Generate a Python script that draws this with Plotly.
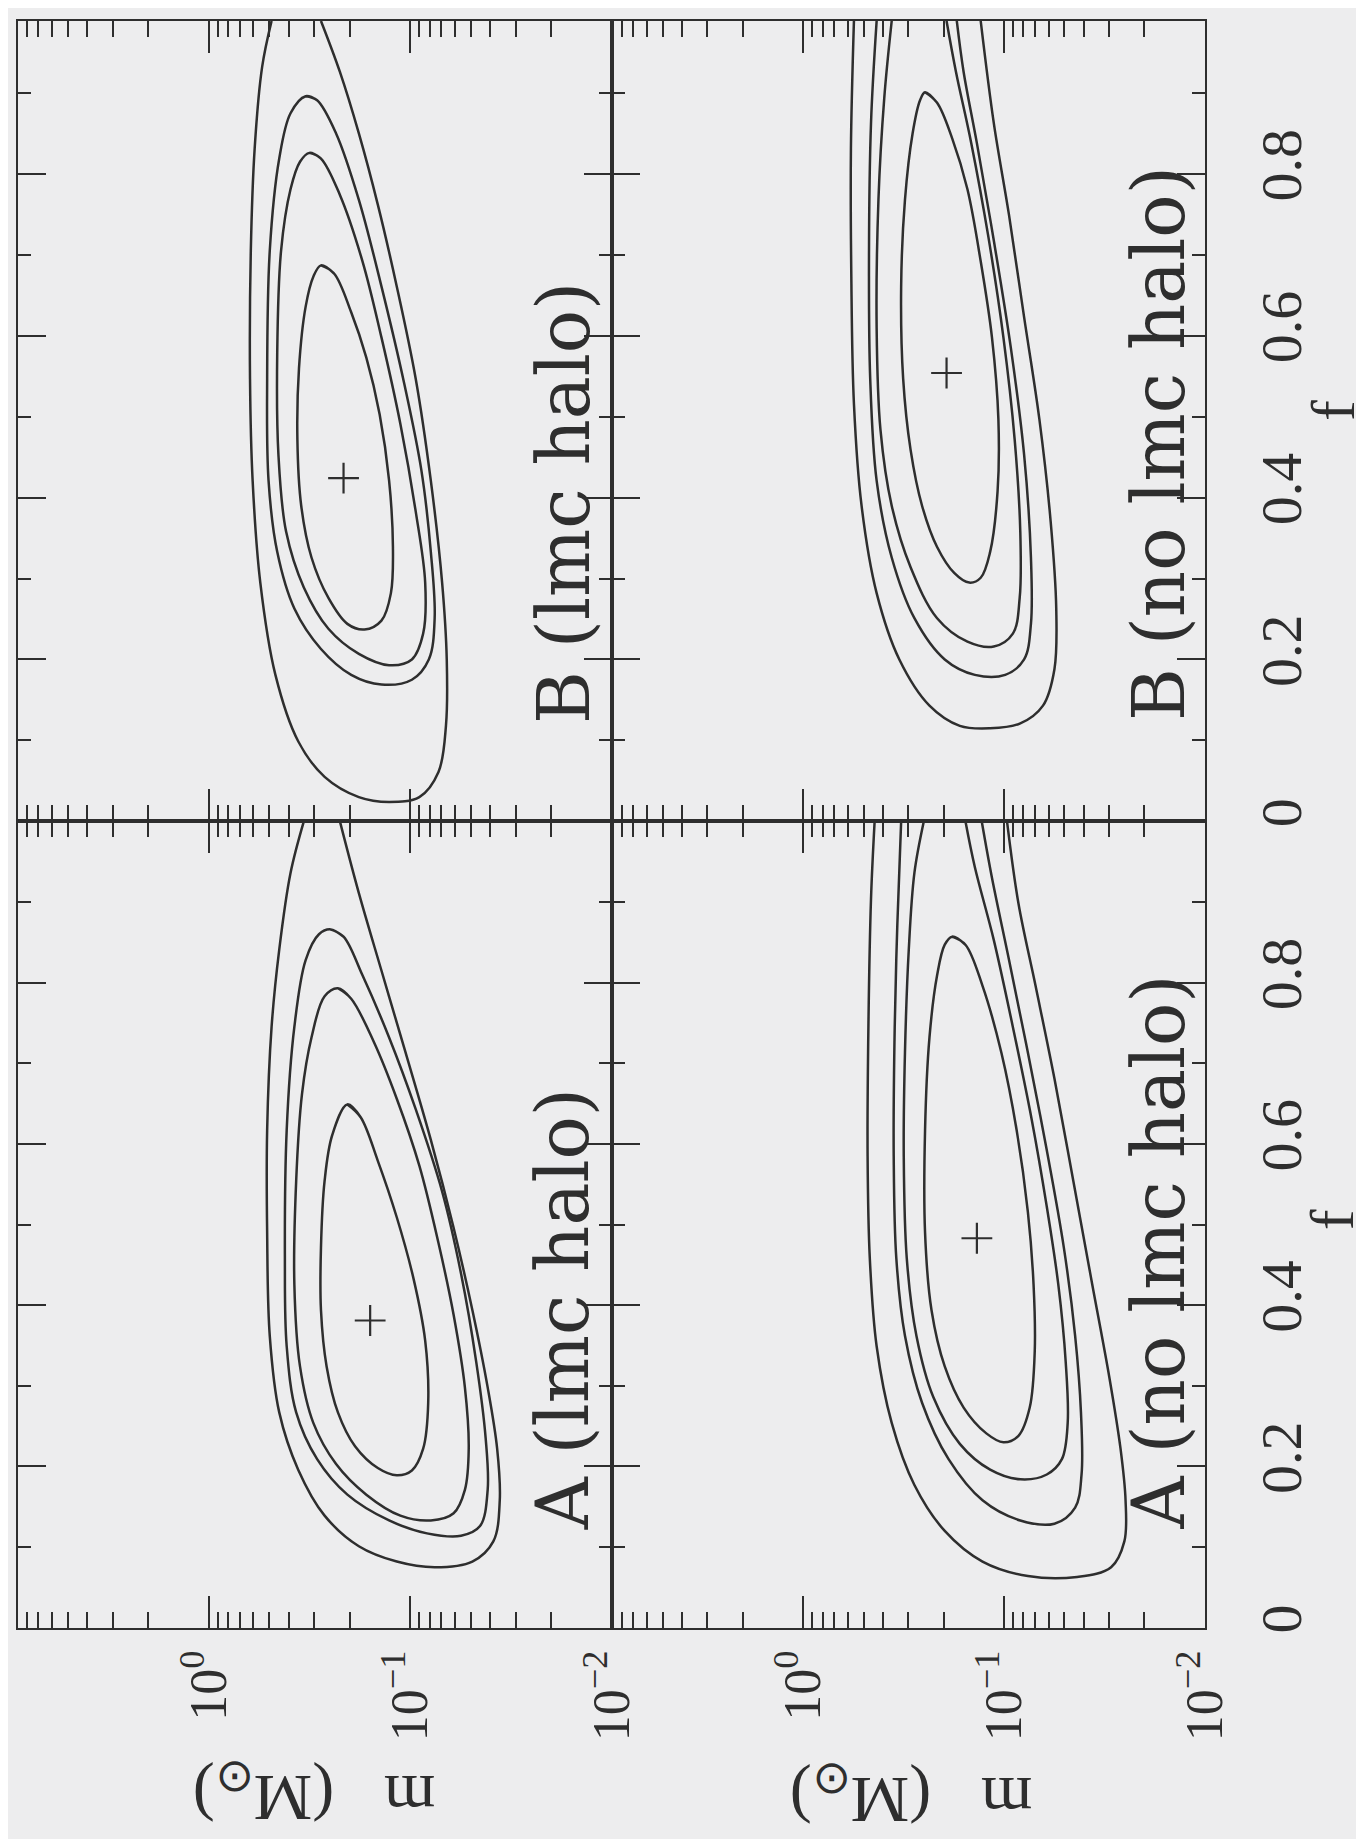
import plotly.graph_objects as go

# ---------------- data (log10 m [M_sun], f) ----------------
# Panel A (lmc halo)
A_LMC_BEST_LOGM, A_LMC_BEST_F = -0.801, 0.381
A_LMC_C1_LOGM = [-0.688, -0.754, -0.839, -0.933, -1.017, -1.074, -1.089, -1.064, -1.008, -0.933, -0.839, -0.726, -0.641, -0.585, -0.557, -0.557, -0.575, -0.613]
A_LMC_C1_F = [0.649, 0.633, 0.579, 0.509, 0.432, 0.356, 0.279, 0.222, 0.195, 0.189, 0.198, 0.225, 0.267, 0.324, 0.394, 0.471, 0.554, 0.611]
A_LMC_C2_LOGM = [-0.641, -0.707, -0.820, -0.933, -1.045, -1.140, -1.215, -1.271, -1.290, -1.271, -1.215, -1.102, -0.951, -0.782, -0.632, -0.519, -0.453, -0.425, -0.434, -0.463, -0.510, -0.575]
A_LMC_C2_F = [0.793, 0.780, 0.726, 0.656, 0.573, 0.477, 0.388, 0.298, 0.222, 0.171, 0.142, 0.133, 0.139, 0.165, 0.203, 0.254, 0.324, 0.426, 0.554, 0.662, 0.732, 0.783]
A_LMC_C3_LOGM = [-0.604, -0.669, -0.763, -0.895, -1.027, -1.158, -1.252, -1.327, -1.374, -1.384, -1.346, -1.252, -1.083, -0.895, -0.688, -0.538, -0.434, -0.387, -0.378, -0.387, -0.425, -0.481, -0.547]
A_LMC_C3_F = [0.866, 0.857, 0.809, 0.732, 0.643, 0.541, 0.439, 0.330, 0.235, 0.171, 0.126, 0.114, 0.117, 0.133, 0.165, 0.209, 0.267, 0.349, 0.458, 0.617, 0.745, 0.828, 0.860]
A_LMC_C4_LOGM = [-0.472, -0.406, -0.350, -0.312, -0.290, -0.290, -0.303, -0.350, -0.444, -0.575, -0.745, -0.933, -1.121, -1.308, -1.412, -1.444, -1.431, -1.384, -1.308, -1.215, -1.102, -0.970, -0.857, -0.745, -0.651]
A_LMC_C4_F = [1.0, 0.936, 0.841, 0.745, 0.617, 0.490, 0.362, 0.267, 0.196, 0.139, 0.101, 0.082, 0.075, 0.082, 0.107, 0.158, 0.222, 0.298, 0.394, 0.496, 0.605, 0.719, 0.815, 0.911, 1.0]

# Panel B (lmc halo)
B_LMC_BEST_LOGM, B_LMC_BEST_F = -0.669, 0.424
B_LMC_C1_LOGM = [-0.557, -0.622, -0.707, -0.782, -0.848, -0.895, -0.914, -0.904, -0.857, -0.773, -0.688, -0.594, -0.510, -0.459, -0.440, -0.448, -0.481, -0.519]
B_LMC_C1_F = [0.687, 0.677, 0.629, 0.573, 0.503, 0.421, 0.339, 0.282, 0.248, 0.237, 0.244, 0.276, 0.326, 0.390, 0.472, 0.560, 0.636, 0.673]
B_LMC_C2_LOGM = [-0.500, -0.557, -0.651, -0.763, -0.857, -0.951, -1.027, -1.074, -1.064, -1.008, -0.895, -0.745, -0.594, -0.472, -0.384, -0.346, -0.340, -0.359, -0.406, -0.453]
B_LMC_C2_F = [0.826, 0.819, 0.774, 0.692, 0.598, 0.491, 0.383, 0.295, 0.232, 0.200, 0.193, 0.207, 0.238, 0.289, 0.358, 0.453, 0.579, 0.705, 0.781, 0.815]
B_LMC_C3_LOGM = [-0.481, -0.538, -0.632, -0.745, -0.857, -0.970, -1.055, -1.102, -1.121, -1.092, -1.008, -0.857, -0.707, -0.557, -0.425, -0.340, -0.297, -0.290, -0.303, -0.350, -0.406]
B_LMC_C3_F = [0.896, 0.891, 0.850, 0.768, 0.661, 0.541, 0.434, 0.333, 0.251, 0.200, 0.175, 0.169, 0.181, 0.213, 0.263, 0.333, 0.421, 0.547, 0.705, 0.819, 0.875]
B_LMC_C4_LOGM = [-0.312, -0.265, -0.228, -0.209, -0.205, -0.218, -0.256, -0.331, -0.444, -0.575, -0.745, -0.895, -1.045, -1.140, -1.177, -1.181, -1.158, -1.102, -1.027, -0.933, -0.839, -0.745, -0.651, -0.557]
B_LMC_C4_F = [0.989, 0.932, 0.831, 0.705, 0.547, 0.421, 0.295, 0.181, 0.099, 0.055, 0.030, 0.024, 0.030, 0.061, 0.118, 0.200, 0.295, 0.421, 0.547, 0.661, 0.762, 0.850, 0.926, 0.989]

# Panel A (no lmc halo)
A_NO_BEST_LOGM, A_NO_BEST_F = -0.865, 0.483
A_NO_C1_LOGM = [-0.742, -0.808, -0.893, -0.987, -1.063, -1.119, -1.147, -1.153, -1.128, -1.072, -0.997, -0.912, -0.799, -0.705, -0.639, -0.607, -0.607, -0.629, -0.667, -0.705]
A_NO_C1_F = [0.857, 0.847, 0.796, 0.713, 0.617, 0.515, 0.426, 0.343, 0.273, 0.238, 0.230, 0.241, 0.273, 0.324, 0.394, 0.490, 0.617, 0.732, 0.809, 0.847]
A_NO_C2_LOGM = [-0.601, -0.554, -0.526, -0.507, -0.501, -0.516, -0.564, -0.648, -0.780, -0.931, -1.081, -1.213, -1.288, -1.317, -1.307, -1.270, -1.213, -1.138, -1.044, -0.949, -0.855, -0.808]
A_NO_C2_F = [1.0, 0.936, 0.841, 0.713, 0.585, 0.458, 0.362, 0.286, 0.228, 0.196, 0.184, 0.190, 0.209, 0.254, 0.330, 0.426, 0.522, 0.630, 0.745, 0.853, 0.943, 1.0]
A_NO_C3_LOGM = [-0.488, -0.469, -0.456, -0.451, -0.464, -0.507, -0.592, -0.724, -0.893, -1.081, -1.251, -1.354, -1.386, -1.383, -1.354, -1.298, -1.213, -1.119, -1.025, -0.940, -0.889]
A_NO_C3_F = [1.0, 0.872, 0.745, 0.585, 0.458, 0.362, 0.279, 0.209, 0.158, 0.133, 0.129, 0.149, 0.190, 0.267, 0.362, 0.471, 0.592, 0.713, 0.828, 0.930, 1.0]
A_NO_C4_LOGM = [-0.356, -0.338, -0.325, -0.321, -0.332, -0.366, -0.441, -0.554, -0.705, -0.893, -1.119, -1.364, -1.533, -1.599, -1.605, -1.580, -1.524, -1.439, -1.345, -1.251, -1.157, -1.072, -1.015]
A_NO_C4_F = [1.0, 0.904, 0.745, 0.585, 0.458, 0.349, 0.254, 0.177, 0.120, 0.082, 0.064, 0.063, 0.075, 0.107, 0.158, 0.222, 0.311, 0.426, 0.554, 0.681, 0.796, 0.898, 1.0]

# Panel B (no lmc halo)
B_NO_BEST_LOGM, B_NO_BEST_F = -0.714, 0.554
B_NO_C1_LOGM = [-0.607, -0.667, -0.742, -0.818, -0.884, -0.940, -0.972, -0.968, -0.931, -0.884, -0.827, -0.752, -0.667, -0.592, -0.535, -0.498, -0.488, -0.507, -0.545, -0.582]
B_NO_C1_F = [0.901, 0.888, 0.844, 0.781, 0.692, 0.598, 0.497, 0.408, 0.333, 0.301, 0.295, 0.307, 0.339, 0.390, 0.459, 0.547, 0.661, 0.768, 0.850, 0.891]
B_NO_C2_LOGM = [-0.441, -0.404, -0.375, -0.366, -0.385, -0.441, -0.535, -0.667, -0.818, -0.949, -1.044, -1.078, -1.081, -1.053, -0.997, -0.921, -0.837, -0.761, -0.714]
B_NO_C2_F = [0.989, 0.894, 0.768, 0.610, 0.484, 0.390, 0.314, 0.251, 0.222, 0.216, 0.232, 0.276, 0.358, 0.472, 0.598, 0.724, 0.838, 0.926, 0.989]
B_NO_C3_LOGM = [-0.366, -0.338, -0.328, -0.334, -0.366, -0.441, -0.554, -0.705, -0.855, -1.006, -1.100, -1.134, -1.134, -1.100, -1.034, -0.949, -0.865, -0.799, -0.765]
B_NO_C3_F = [0.989, 0.863, 0.705, 0.547, 0.421, 0.326, 0.251, 0.200, 0.181, 0.181, 0.200, 0.244, 0.326, 0.453, 0.585, 0.718, 0.838, 0.926, 0.989]
B_NO_C4_LOGM = [-0.253, -0.238, -0.240, -0.253, -0.291, -0.366, -0.479, -0.629, -0.780, -0.931, -1.081, -1.194, -1.251, -1.260, -1.232, -1.176, -1.100, -1.025, -0.949, -0.884]
B_NO_C4_F = [0.989, 0.831, 0.673, 0.516, 0.390, 0.282, 0.200, 0.143, 0.118, 0.115, 0.121, 0.143, 0.188, 0.263, 0.371, 0.497, 0.623, 0.749, 0.863, 0.989]

# axis ticks / labels
M_MAJOR = [0.01, 0.1, 1.0]
M_LABELS = ["10<sup>\u22122</sup>", "10<sup>\u22121</sup>", "10<sup>0</sup>"]
M_MINOR = [k * d for d in (0.01, 0.1, 1.0) for k in range(2, 10)]
F_MAJOR = [0.0, 0.2, 0.4, 0.6, 0.8]
F_LABELS = ["0", "0.2", "0.4", "0.6", "0.8"]
F_MINOR = [0.1, 0.3, 0.5, 0.7, 0.9, 1.0]
PANEL_LABELS = ["A (lmc halo)", "B (lmc halo)", "A (no lmc halo)", "B (no lmc halo)"]
M_TITLE = "m\u00a0\u00a0\u00a0(M<sub>\u2299</sub>)"
F_TITLE = "f"

# ---------------- styling ----------------
W, H = 1364, 1839
BG = "#ededee"
INK = "#2e2e2e"
SERIF = "Liberation Serif"


def px_x(p):
    return p / W


def px_y(p):
    return 1 - p / H


X1 = [px_x(10), px_x(616.5)]
X2 = [px_x(616.5), px_x(1222)]
Y_LOW = [px_y(1625), px_y(816)]
Y_UP = [px_y(816), px_y(13)]

fig = go.Figure()


def add_line(logm, f, closed, xa, ya):
    xs = [10 ** v for v in logm]
    ys = list(f)
    if closed:
        xs = xs + xs[:2]
        ys = ys + ys[:2]
    fig.add_trace(go.Scatter(x=xs, y=ys, mode="lines",
                             line=dict(color=INK, width=2.5, shape="spline", smoothing=1.0),
                             xaxis=xa, yaxis=ya, hoverinfo="skip", showlegend=False))


def add_best(logm, f, xa, ya):
    fig.add_trace(go.Scatter(x=[10 ** logm], y=[f], mode="markers",
                             marker=dict(symbol="cross-thin", size=22, color=INK,
                                         line=dict(width=2.2, color=INK)),
                             xaxis=xa, yaxis=ya, hoverinfo="skip", showlegend=False))


# A (lmc halo): x / y
add_line(A_LMC_C1_LOGM, A_LMC_C1_F, True, "x", "y")
add_line(A_LMC_C2_LOGM, A_LMC_C2_F, True, "x", "y")
add_line(A_LMC_C3_LOGM, A_LMC_C3_F, True, "x", "y")
add_line(A_LMC_C4_LOGM, A_LMC_C4_F, False, "x", "y")
add_best(A_LMC_BEST_LOGM, A_LMC_BEST_F, "x", "y")
# B (lmc halo): x2 / y2
add_line(B_LMC_C1_LOGM, B_LMC_C1_F, True, "x2", "y2")
add_line(B_LMC_C2_LOGM, B_LMC_C2_F, True, "x2", "y2")
add_line(B_LMC_C3_LOGM, B_LMC_C3_F, True, "x2", "y2")
add_line(B_LMC_C4_LOGM, B_LMC_C4_F, False, "x2", "y2")
add_best(B_LMC_BEST_LOGM, B_LMC_BEST_F, "x2", "y2")
# A (no lmc halo): x3 / y3
add_line(A_NO_C1_LOGM, A_NO_C1_F, True, "x3", "y3")
add_line(A_NO_C2_LOGM, A_NO_C2_F, False, "x3", "y3")
add_line(A_NO_C3_LOGM, A_NO_C3_F, False, "x3", "y3")
add_line(A_NO_C4_LOGM, A_NO_C4_F, False, "x3", "y3")
add_best(A_NO_BEST_LOGM, A_NO_BEST_F, "x3", "y3")
# B (no lmc halo): x4 / y4
add_line(B_NO_C1_LOGM, B_NO_C1_F, True, "x4", "y4")
add_line(B_NO_C2_LOGM, B_NO_C2_F, False, "x4", "y4")
add_line(B_NO_C3_LOGM, B_NO_C3_F, False, "x4", "y4")
add_line(B_NO_C4_LOGM, B_NO_C4_F, False, "x4", "y4")
add_best(B_NO_BEST_LOGM, B_NO_BEST_F, "x4", "y4")


def xcfg(domain, top, anchor, labels):
    return dict(type="log", range=[top, -2.0], domain=domain, anchor=anchor,
                showline=True, linecolor=INK, linewidth=2, mirror="allticks",
                ticks="inside", ticklen=32, tickwidth=2, tickcolor=INK,
                tickmode="array", tickvals=M_MAJOR, ticktext=M_LABELS,
                showticklabels=labels, tickangle=-90,
                tickfont=dict(family=SERIF, size=52, color=INK),
                minor=dict(tickmode="array", tickvals=M_MINOR, ticks="inside",
                           ticklen=16, tickwidth=2, tickcolor=INK),
                showgrid=False, zeroline=False, fixedrange=True)


def ycfg(domain, top, anchor, side, labels):
    return dict(range=[0, top], domain=domain, anchor=anchor, side=side,
                showline=True, linecolor=INK, linewidth=2, mirror="allticks",
                ticks="inside", ticklen=28, tickwidth=2, tickcolor=INK,
                tickmode="array", tickvals=F_MAJOR, ticktext=F_LABELS,
                showticklabels=labels, tickangle=-90, ticklabelstandoff=24,
                tickfont=dict(family=SERIF, size=58, color=INK),
                minor=dict(tickmode="array", tickvals=F_MINOR, ticks="inside",
                           ticklen=13, tickwidth=2, tickcolor=INK),
                showgrid=False, zeroline=False, fixedrange=True)


annotations = []
# panel labels (rotated, reading upward)
label_pos = [(567, 1529), (567, 720), (1175, 1528), (1175, 717)]
for text, (cx, by) in zip(PANEL_LABELS, label_pos):
    annotations.append(dict(text=text, x=px_x(cx), y=px_y(by), xref="paper", yref="paper",
                            xanchor="center", yanchor="bottom", textangle=-90, showarrow=False,
                            font=dict(family="DejaVu Serif", size=72, color=INK)))
# m axis titles (upside-down)
for cx, cy in [(313, 1792), (922, 1794)]:
    annotations.append(dict(text=M_TITLE, x=px_x(cx), y=px_y(cy), xref="paper", yref="paper",
                            xanchor="center", yanchor="middle", textangle=180, showarrow=False,
                            font=dict(family=SERIF, size=66, color=INK)))
# f axis titles
for cx, cy in [(1352, 404), (1352, 1216)]:
    annotations.append(dict(text=F_TITLE, x=px_x(cx), y=px_y(cy), xref="paper", yref="paper",
                            xanchor="center", yanchor="middle", textangle=-90, showarrow=False,
                            font=dict(family=SERIF, size=62, color=INK)))

fig.update_layout(
    width=W, height=H, margin=dict(l=0, r=0, t=0, b=0),
    paper_bgcolor=BG, plot_bgcolor=BG, showlegend=False,
    xaxis=xcfg(X1, 0.947, "y", True),
    yaxis=ycfg(Y_LOW, 1.0, "x", "left", False),
    xaxis2=xcfg(X1, 0.947, "y2", False),
    yaxis2=ycfg(Y_UP, 0.989, "x2", "left", False),
    xaxis3=xcfg(X2, 0.952, "y3", True),
    yaxis3=ycfg(Y_LOW, 1.0, "x3", "right", True),
    xaxis4=xcfg(X2, 0.952, "y4", False),
    yaxis4=ycfg(Y_UP, 0.989, "x4", "right", True),
    annotations=annotations,
)

fig.write_html("out.html")
